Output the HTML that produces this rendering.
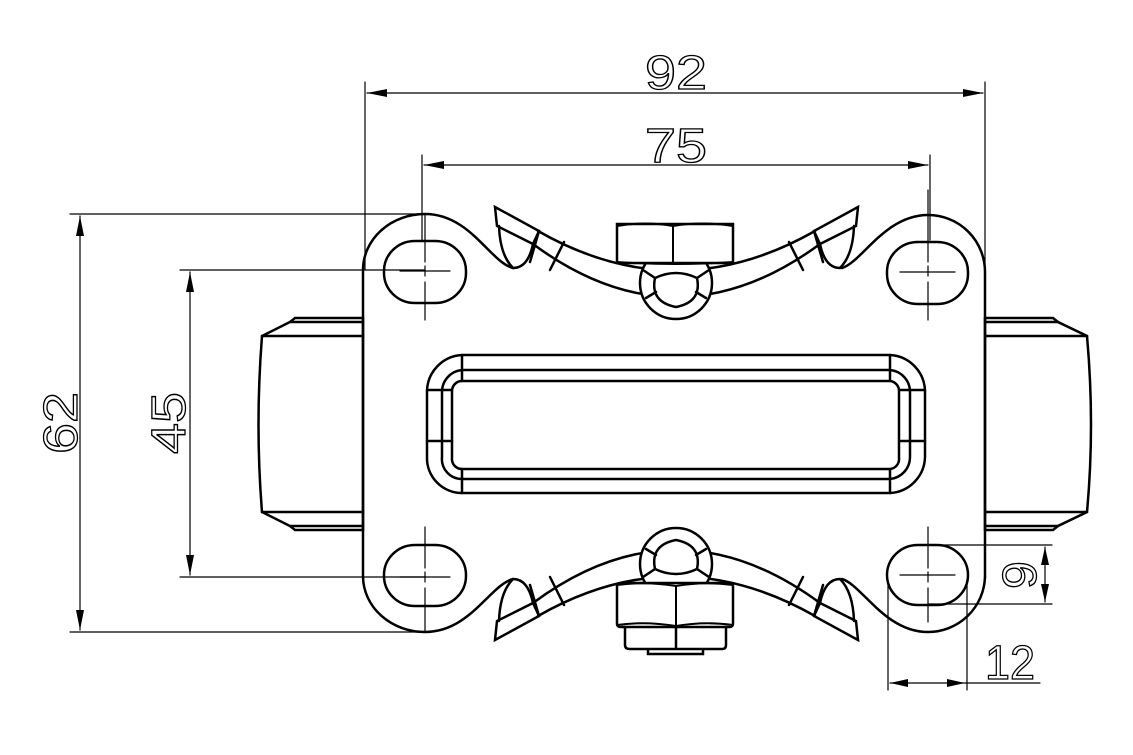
<!DOCTYPE html>
<html><head><style>body{margin:0;background:#fff}svg{display:block}</style></head><body>
<svg width="1133" height="755" viewBox="0 0 1133 755" xmlns="http://www.w3.org/2000/svg">
<defs>
<g id="tipL">
<path d="M495,207 L497,226 L533,244 L539,231 Z" fill="none" stroke="#000" stroke-width="2.5"/>
<path d="M499,226 Q500,255 513,268 Q528,268 533,244" fill="none" stroke="#000" stroke-width="2.5"/>
<line x1="539" y1="231" x2="530" y2="262" stroke="#000" stroke-width="2.5"/>
<line x1="564" y1="242" x2="550" y2="270" stroke="#000" stroke-width="2.5"/>
</g>
</defs>
<g fill="none" stroke="#000" stroke-linecap="round">
<!-- plate outline -->
<path d="M363,577 L363,270 A62,56 0 0 1 425,214 C470,214 490,262 513,268" stroke-width="2.5"/>
<path d="M985,577 L985,272 A57,57 0 0 0 928,215 C885,215 862,262 842,268" stroke-width="2.5"/>
<path d="M363,577 A62,56 0 0 0 425,632 C470,632 490,585 513,579" stroke-width="2.5"/>
<path d="M985,577 A57,57 0 0 1 928,632 C885,632 862,585 842,579" stroke-width="2.5"/>
<!-- holes -->
<g stroke-width="2.5">
<rect x="384" y="241" width="82" height="62" rx="31" ry="30"/>
<rect x="887" y="242" width="81" height="62" rx="31" ry="30"/>
<rect x="384" y="545" width="82" height="61" rx="31" ry="30"/>
<rect x="887" y="545" width="81" height="60" rx="31" ry="30"/>
</g>
<!-- centerlines -->
<g stroke-width="1.2">
<path d="M425,214 V262 M425,266 V276 M425,282 V320 M400,271 H450"/>
<path d="M928,190 V262 M928,266 V276 M928,282 V320 M900,272 H955"/>
<path d="M425,527 V568 M425,572 V582 M425,588 V632 M400,577 H450"/>
<path d="M928,527 V568 M928,572 V582 M928,588 V622 M900,575 H955"/>
</g>
<!-- wheels -->
<g stroke-width="2.5">
<path d="M363,318 H295 L290,322 L262,336 Q255,425 262,512 L290,526 L295,530 H363"/>
<path d="M262,336 H363 M262,512 H363 M290,322 H363 M290,526 H363"/>
<path d="M985,318 H1053 L1058,322 L1087,336 Q1095,425 1087,512 L1058,526 L1053,530 H985"/>
<path d="M1087,336 H985 M1087,512 H985 M1058,322 H985 M1058,526 H985"/>
<line x1="363" y1="318" x2="363" y2="530"/>
<line x1="985" y1="318" x2="985" y2="530"/>
</g>
<!-- center slot -->
<g stroke-width="2.5">
<path d="M462,355 H890 A37,37 0 0 1 925,392 V457 A37,37 0 0 1 890,493 H462 A35,35 0 0 1 427,457 V392 A37,37 0 0 1 462,355 Z"/>
<path d="M462,370 H890 A22,22 0 0 1 910,392 V457 A22,22 0 0 1 890,479 H462 A20,20 0 0 1 442,457 V392 A22,22 0 0 1 462,370 Z"/>
<path d="M462,381 H890 A10,10 0 0 1 899,391 V458 A10,10 0 0 1 890,469 H462 A10,10 0 0 1 452,458 V391 A10,10 0 0 1 462,381 Z"/>
<path d="M462,355 V381 M462,469 V493 M890,355 V381 M890,469 V493 M427,390 H452 M427,441 H452 M900,390 H925 M900,441 H925"/>
</g>
<!-- top bracket -->
<path d="M538,231 Q676,310 815,231" stroke-width="2.5"/>
<path d="M533,244 Q676,350 820,244" stroke-width="2.5"/>
<use href="#tipL"/>
<use href="#tipL" transform="translate(1353,0) scale(-1,1)"/>
<!-- top eye -->
<circle cx="676" cy="283" r="36" stroke-width="2.5" fill="#fff"/>
<path d="M655,278 Q676,268 697,278 Q702,302 676,307 Q650,302 655,278 Z" stroke-width="2.5"/>
<path d="M643,270 L655,278 M709,270 L697,278 M646,298 L656,292 M706,298 L696,292" stroke-width="2.5"/>
<!-- top nut -->
<rect x="617" y="224" width="116" height="39" stroke-width="2.5" fill="#fff"/>
<path d="M617,226 Q645,221 673,226 Q701,221 733,226 M673,224 V262 M617,262 Q676,266 733,262" stroke-width="2"/>
<!-- bottom bracket -->
<g transform="translate(0,847) scale(1,-1)">
<path d="M538,231 Q676,310 815,231" stroke-width="2.5"/>
<path d="M533,244 Q676,350 820,244" stroke-width="2.5"/>
<use href="#tipL"/>
<use href="#tipL" transform="translate(1353,0) scale(-1,1)"/>
<circle cx="676" cy="283" r="36" stroke-width="2.5" fill="#fff"/>
<path d="M655,278 Q676,268 697,278 Q702,302 676,307 Q650,302 655,278 Z" stroke-width="2.5"/>
<path d="M643,270 L655,278 M709,270 L697,278 M646,298 L656,292 M706,298 L696,292" stroke-width="2.5"/>
</g>
<!-- bottom nuts -->
<rect x="617" y="583" width="116" height="44" rx="3" stroke-width="2.5" fill="#fff"/>
<path d="M617,585 Q645,581 676,586 Q705,581 733,585 M617,625 Q645,621 676,626 Q705,621 733,625 M676,586 V626" stroke-width="2"/>
<path d="M625,627 V645 Q625,649 630,649 H722 Q726,649 726,645 V627 M676,627 V647 M648,649 V654 H703 V649" stroke-width="2.5"/>
<!-- dimension lines -->
<g stroke-width="1.2">
<path d="M365,82 V270 M985,82 V272 M367,93 H983"/>
<path d="M422,155 V240 M930,155 V240 M424,165 H928"/>
<path d="M70,214 H425 M70,632 H425 M80,216 V630"/>
<path d="M180,270 H425 M180,577 H425 M190,272 V575"/>
<path d="M928,545 H1052 M928,604 H1052 M1045,547 V602"/>
<path d="M888,580 V690 M967,580 V690 M890,683 H1040"/>
</g>
</g>
<g fill="#000">
<polygon points="367,93 387,89 387,97"/><polygon points="983,93 963,89 963,97"/>
<polygon points="424,165 444,161 444,169"/><polygon points="928,165 908,161 908,169"/>
<polygon points="80,216 76,236 84,236"/><polygon points="80,630 76,610 84,610"/>
<polygon points="190,272 186,292 194,292"/><polygon points="190,575 186,555 194,555"/>
<polygon points="1045,547 1041,565 1049,565"/><polygon points="1045,602 1041,584 1049,584"/>
<polygon points="890,683 908,679 908,687"/><polygon points="965,683 947,679 947,687"/>
</g>
<g font-family="Liberation Sans, sans-serif" font-size="48" fill="none" stroke="#000" stroke-width="1.3">
<text x="676" y="89" text-anchor="middle" textLength="62" lengthAdjust="spacingAndGlyphs">92</text>
<text x="676" y="162" text-anchor="middle" textLength="62" lengthAdjust="spacingAndGlyphs">75</text>
<text transform="translate(77,423) rotate(-90)" text-anchor="middle" textLength="62" lengthAdjust="spacingAndGlyphs">62</text>
<text transform="translate(185,423) rotate(-90)" text-anchor="middle" textLength="62" lengthAdjust="spacingAndGlyphs">45</text>
<text transform="translate(1036,575) rotate(-90)" text-anchor="middle" textLength="28" lengthAdjust="spacingAndGlyphs">9</text>
<text x="1010" y="679" text-anchor="middle" textLength="50" lengthAdjust="spacingAndGlyphs">12</text>
</g>
</svg>
</body></html>
